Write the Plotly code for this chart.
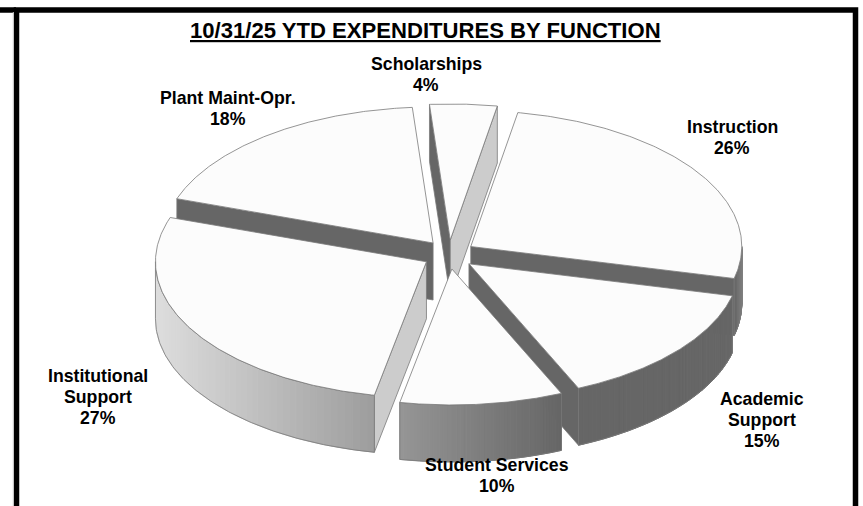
import numpy as np
import plotly.graph_objects as go

# Data (clockwise from the Instruction slice)
categories = ["Instruction", "Academic Support", "Student Services",
              "Institutional Support", "Plant Maint-Opr.", "Scholarships"]
shares = [26.0, 14.6, 9.7, 27.2, 18.5, 4.0]
percent_labels = ["26%", "15%", "10%", "27%", "18%", "4%"]
label_lines = [["Instruction"], ["Academic", "Support"], ["Student Services"],
               ["Institutional", "Support"], ["Plant Maint-Opr."], ["Scholarships"]]
title_text = "10/31/25 YTD EXPENDITURES BY FUNCTION"

# Layout and projection
W, H = 863, 506
CX, CY, RX, RY, DEPTH = 449.0, 254.5, 271.0, 136.0, 57.0
PULL_X, PULL_Y = 0.096, 0.107
START = 10.0
label_top = [(732, 127), (762, 399), (497, 465), (98, 376), (228, 98), (426, 64)]
LINE_GAP = 21
draw_order = [4, 5, 0, 3, 1, 2]
start_face = {3: "#cccccc", 4: "#666666", 5: "#666666"}
end_face = {0: "#666666", 1: "#666666", 5: "#cccccc"}
EDGE = "#7a7a7a"
TOP = "#fcfcfc"
FONT = "Liberation Sans, Arial, sans-serif"

edges = START + np.concatenate([[0], np.cumsum(shares)]) * 3.6
fig = go.Figure()


def poly(xs, ys, fill, line=EDGE, width=0.8):
    fig.add_trace(go.Scatter(x=list(xs), y=list(ys), mode="lines", fill="toself",
                             fillcolor=fill, line=dict(color=line, width=width),
                             hoverinfo="skip", showlegend=False))


def rim_gray(x):
    g = int(np.interp(x, [155, 400, 562, 734, 743], [222, 150, 102, 102, 135]))
    return f"rgb({g},{g},{g})"


for i in draw_order:
    t0, t1 = edges[i], edges[i + 1]
    mid = np.radians((t0 + t1) / 2)
    ax = CX + RX * PULL_X * np.sin(mid)
    ay = CY - RY * PULL_Y * np.cos(mid)

    def pt(deg):
        r = np.radians(deg)
        return ax + RX * np.sin(r), ay - RY * np.cos(r)

    # radial cut faces that look toward the viewer
    for deg, faces in ((t0, start_face), (t1, end_face)):
        if i in faces:
            px, py = pt(deg)
            poly([ax, px, px, ax, ax], [ay, py, py + DEPTH, ay + DEPTH, ay], faces[i])

    # outer rim, visible only on the front half
    r0, r1 = max(t0, 90.0), min(t1, 270.0)
    if r1 > r0:
        th = np.linspace(r0, r1, 50)
        for a, b in zip(th[:-1], th[1:]):
            xa, ya = pt(a)
            xb, yb = pt(b)
            c = rim_gray((xa + xb) / 2)
            poly([xa, xb, xb, xa, xa], [ya, yb, yb + DEPTH, ya + DEPTH, ya], c, line=c, width=1)
        fine = np.linspace(r0, r1, 120)
        rx, ry = pt(fine)
        fig.add_trace(go.Scatter(
            x=list(rx) + list(rx[::-1]) + [rx[0]],
            y=list(ry) + list((ry + DEPTH)[::-1]) + [ry[0]],
            mode="lines", line=dict(color=EDGE, width=0.8),
            hoverinfo="skip", showlegend=False))

    # top surface
    fine = np.linspace(t0, t1, 160)
    rx, ry = pt(fine)
    poly([ax] + list(rx) + [ax], [ay] + list(ry) + [ay], TOP)

annotations = []
for (x, y), lines, p in zip(label_top, label_lines, percent_labels):
    for k, line in enumerate(lines + [p]):
        annotations.append(dict(x=x, y=y + k * LINE_GAP, xref="x", yref="y", showarrow=False,
                                xanchor="center", yanchor="middle", text=f"<b>{line}</b>",
                                font=dict(family=FONT, size=17.7, color="#000000")))
annotations.append(dict(x=425.5, y=30, xref="x", yref="y", showarrow=False, xanchor="center", yanchor="middle",
                        text=f"<b><u>{title_text}</u></b>",
                        font=dict(family=FONT, size=22.1, color="#000000")))

shapes = [
    dict(type="rect", xref="x", yref="y", x0=16.5, y0=10, x1=855.5, y1=530,
         line=dict(color="#000000", width=5.5)),
    dict(type="line", xref="x", yref="y", x0=0, y0=10, x1=16, y1=10,
         line=dict(color="#000000", width=5.5)),
    dict(type="line", xref="x", yref="y", x0=13.3, y0=12, x1=13.3, y1=506,
         line=dict(color="#c8c8c8", width=1)),
]

fig.update_layout(
    width=W, height=H, margin=dict(l=0, r=0, t=0, b=0), autosize=False,
    paper_bgcolor="#ffffff", plot_bgcolor="#ffffff",
    xaxis=dict(range=[0, W], visible=False, fixedrange=True),
    yaxis=dict(range=[H, 0], visible=False, fixedrange=True),
    annotations=annotations, shapes=shapes, showlegend=False,
)
fig.write_html("out.html", config=dict(displayModeBar=False),
               post_script="document.body.style.margin='0';document.body.style.overflow='hidden';")
